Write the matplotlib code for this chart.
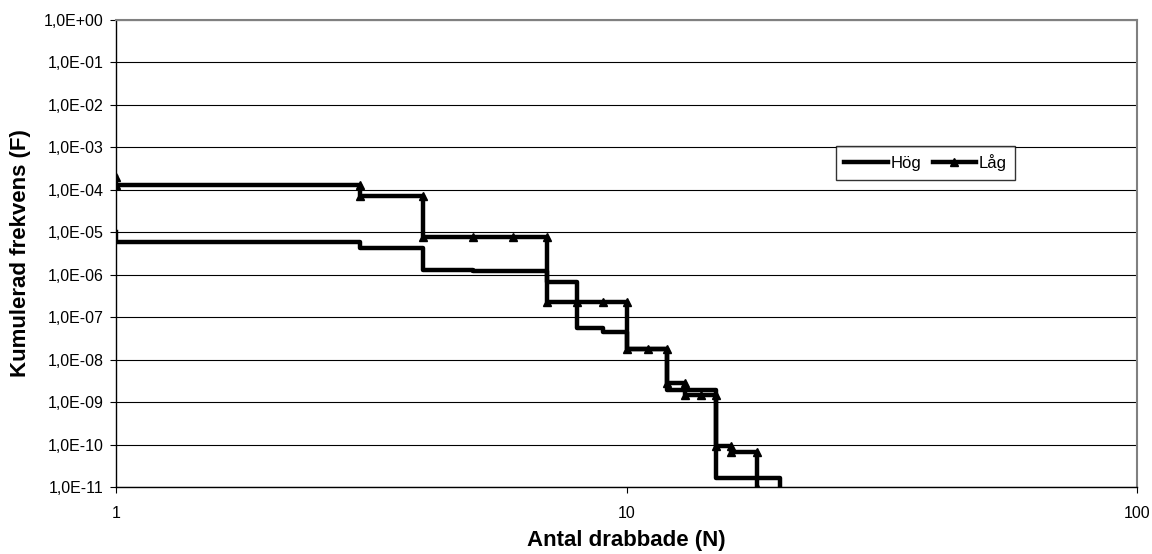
import matplotlib
matplotlib.use("Agg")
import matplotlib.pyplot as plt
from matplotlib.ticker import FixedLocator, FuncFormatter, NullLocator

plt.rcParams['font.family'] = ['Liberation Sans', 'DejaVu Sans']

# Cumulative frequency curves (step points: number affected N, frequency F)
hog_n = [1, 1, 3, 3, 4, 4, 5, 5, 7, 7, 8, 8, 9, 9, 10, 10, 12, 12, 15, 15, 20, 20]
hog_f = [1.0e-5, 5.8e-6, 5.8e-6, 4.3e-6, 4.3e-6, 1.3e-6, 1.3e-6, 1.2e-6,
         1.2e-6, 6.6e-7, 6.6e-7, 5.6e-8, 5.6e-8, 4.5e-8, 4.5e-8, 1.8e-8,
         1.8e-8, 1.9e-9, 1.9e-9, 1.6e-11, 1.6e-11, 1.0e-11]

lag_n = [1, 1, 3, 3, 4, 4, 5, 6, 7, 7, 8, 9, 10, 10, 11, 12, 12, 13, 13,
         14, 15, 15, 16, 16, 18, 18]
lag_f = [2.0e-4, 1.3e-4, 1.3e-4, 7.1e-5, 7.1e-5, 7.8e-6, 7.8e-6, 7.8e-6,
         7.8e-6, 2.3e-7, 2.3e-7, 2.3e-7, 2.3e-7, 1.8e-8, 1.8e-8, 1.8e-8,
         2.8e-9, 2.8e-9, 1.5e-9, 1.5e-9, 1.5e-9, 9.3e-11, 9.3e-11, 6.6e-11,
         6.6e-11, 1.0e-11]

x_ticks = [1, 10, 100]
y_ticks = [10.0 ** e for e in range(-11, 1)]

W, H = 1152, 554
fig = plt.figure(figsize=(W / 100, H / 100), dpi=100)
ax = fig.add_axes([116 / W, 1 - 487 / H, (1137 - 116) / W, (487 - 20) / H])

ax.set_xscale('log')
ax.set_yscale('log')
ax.set_xlim(1, 100)
ax.set_ylim(1e-11, 1)

for y in y_ticks:
    ax.axhline(y, color='black', lw=0.8, zorder=1)

ax.plot(hog_n, hog_f, color='black', lw=3.2, label='Hög', zorder=3)
ax.plot(lag_n, lag_f, color='black', lw=3.2, marker='^', markersize=6,
        label='Låg', zorder=3)

ax.xaxis.set_major_locator(FixedLocator(x_ticks))
ax.xaxis.set_minor_locator(NullLocator())
ax.yaxis.set_major_locator(FixedLocator(y_ticks))
ax.yaxis.set_minor_locator(NullLocator())
ax.xaxis.set_major_formatter(FuncFormatter(lambda v, p: f"{v:g}"))
ax.yaxis.set_major_formatter(
    FuncFormatter(lambda v, p: format(v, '.1E').replace('.', ',')))

ax.tick_params(axis='x', direction='out', length=4, width=0.8, pad=10,
               labelsize=11.5)
ax.tick_params(axis='y', direction='out', length=4, width=0.8, pad=5,
               labelsize=11.5)

for side in ('left', 'bottom'):
    ax.spines[side].set_color('black')
    ax.spines[side].set_linewidth(1.0)
for side in ('top', 'right'):
    ax.spines[side].set_color('#808080')
    ax.spines[side].set_linewidth(1.5)

ax.set_xlabel('Antal drabbade (N)', fontsize=16, fontweight='bold',
              labelpad=6)
ax.set_ylabel('Kumulerad frekvens (F)', fontsize=16, fontweight='bold',
              labelpad=9)

leg = ax.legend(loc='upper left',
                bbox_to_anchor=((836 - 116) / 1021, 1 - (146 - 20) / 467),
                ncol=2, frameon=True, fancybox=False, shadow=False,
                fontsize=12, handlelength=2.6, handletextpad=0.15,
                columnspacing=0.7, borderpad=0.5, borderaxespad=0)
leg.get_frame().set_edgecolor('black')
leg.get_frame().set_linewidth(1.0)

fig.savefig('out.png', dpi=100)
